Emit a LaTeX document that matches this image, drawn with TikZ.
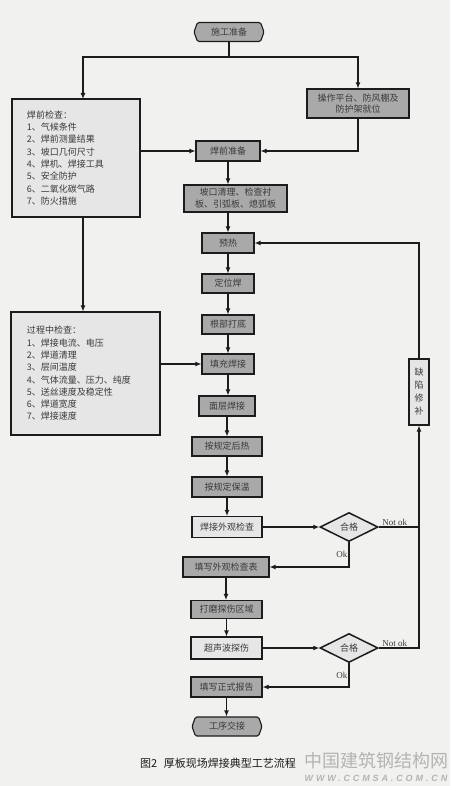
\documentclass[tikz,border=0pt]{standalone}
\usepackage{fontspec}
\setmainfont{Liberation Serif}
\newfontfamily\cjk{Noto Sans CJK SC}
\newfontfamily\wmfont[LetterSpace=32]{Liberation Sans}
\usetikzlibrary{shapes.geometric,shapes.symbols,arrows.meta,calc}
\definecolor{paper}{HTML}{F1F1EF}
\definecolor{grayf}{HTML}{A9A9A9}
\definecolor{lightf}{HTML}{E6E6E6}
\definecolor{linec}{HTML}{1C1C1C}
\definecolor{txtc}{HTML}{3A3A3A}
\definecolor{wmc}{HTML}{B4B4B4}
\tikzset{
  box/.style={draw=linec, line width=1.1pt, rectangle, inner sep=0pt, align=center,
              font=\cjk\fontsize{9}{11.5}\selectfont, text=txtc},
  gbox/.style={box, fill=grayf},
  lbox/.style={box, fill=lightf},
  listbox/.style={box, fill=lightf, align=left, font=\cjk\fontsize{9}{12.3}\selectfont},
  term/.style={box, fill=grayf, signal, signal to=west and east, signal pointer angle=140,
               rounded corners=1.5pt, minimum width=70pt, minimum height=19pt},
  decision/.style={box, fill=lightf, diamond, line width=1.5pt, minimum width=58pt, minimum height=29pt},
  arr/.style={draw=linec, line width=1.1pt, -{Latex[length=6pt,width=5pt]}},
  ln/.style={draw=linec, line width=1.1pt},
  lab/.style={font=\fontsize{9}{10}\selectfont, text=txtc, inner sep=1pt}
}
\begin{document}
\begin{tikzpicture}[x=1pt,y=-1pt]
\fill[paper] (0,0) rectangle (450,786);
\useasboundingbox (0,0) rectangle (450,786);

% nodes
\node[term] (start) at (229,32) {施工准备};
\node[gbox, minimum width=102pt, minimum height=29pt] (ops) at (358,103.5) {操作平台、防风棚及\\防护架就位};
\node[listbox, minimum height=118pt, text width=98pt, inner xsep=15pt] (pre) at (76,158)
  {焊前检查：\\1、气候条件\\2、焊前测量结果\\3、坡口几何尺寸\\4、焊机、焊接工具\\5、安全防护\\6、二氧化碳气路\\7、防火措施};
\node[gbox, minimum width=64pt, minimum height=20pt] (prep) at (228,151) {焊前准备};
\node[gbox, minimum width=103pt, minimum height=27pt, font=\cjk\fontsize{9}{12}\selectfont] (groove) at (235.5,198.5) {坡口清理、检查衬\\板、引弧板、熄弧板};
\node[gbox, minimum width=52pt, minimum height=20pt] (preheat) at (228,243) {预热};
\node[gbox, minimum width=52pt, minimum height=19pt] (tack) at (228,283.5) {定位焊};
\node[gbox, minimum width=52pt, minimum height=19pt] (root) at (228,324.5) {根部打底};
\node[gbox, minimum width=52pt, minimum height=20pt] (fill) at (228,364) {填充焊接};
\node[listbox, minimum height=123pt, text width=117pt, inner xsep=16pt] (proc) at (85.5,373.5)
  {过程中检查：\\1、焊接电流、电压\\2、焊道清理\\3、层间温度\\4、气体流量、压力、纯度\\5、送丝速度及稳定性\\6、焊道宽度\\7、焊接速度};
\node[gbox, minimum width=56pt, minimum height=20pt] (cap) at (227,406) {面层焊接};
\node[gbox, minimum width=70pt, minimum height=19pt] (post) at (227,446.5) {按规定后热};
\node[gbox, minimum width=70pt, minimum height=20pt] (hold) at (227,487) {按规定保温};
\node[lbox, minimum width=70pt, minimum height=21pt] (visual) at (227,527) {焊接外观检查};
\node[decision] (d1) at (349,527) {合格};
\node[gbox, minimum width=86pt, minimum height=20pt] (form) at (226,567) {填写外观检查表};
\node[gbox, minimum width=71pt, minimum height=18pt] (grind) at (226.5,609.5) {打磨探伤区域};
\node[lbox, minimum width=71pt, minimum height=22pt] (ut) at (226.5,648) {超声波探伤};
\node[decision] (d2) at (349,648) {合格};
\node[gbox, minimum width=71pt, minimum height=20pt] (report) at (226.5,687) {填写正式报告};
\node[term] (end) at (227,726.5) {工序交接};
\node[lbox, minimum width=20pt, minimum height=66pt, font=\cjk\fontsize{9}{13}\selectfont] (repair) at (419,392) {缺\\陷\\修\\补};

% connectors
\coordinate (split) at (229,57);
\coordinate (preIn) at (83,99);
\draw[ln] (start.south) -- (split);
\draw[arr] (split) -| (preIn);
\draw[arr] (split) -| (ops.north);
\draw[arr] (ops.south) |- (prep.east);
\draw[arr] (pre.east |- prep.west) -- (prep.west);
\draw[arr] (prep.south) -- (prep.south |- groove.north);
\draw[arr] (groove.south -| preheat.north) -- (preheat.north);
\draw[arr] (preheat.south) -- (preheat.south |- tack.north);
\draw[arr] (tack.south) -- (tack.south |- root.north);
\draw[arr] (root.south) -- (root.south |- fill.north);
\draw[arr] (fill.south) -- (fill.south |- cap.north);
\draw[arr] (cap.south) -- (cap.south |- post.north);
\draw[arr] (post.south) -- (post.south |- hold.north);
\draw[arr] (hold.south) -- (hold.south |- visual.north);
\draw[arr] (preIn |- pre.south) -- (preIn |- proc.north);
\draw[arr] (proc.east |- fill.west) -- (fill.west);
\draw[arr] (visual.east) -- (d1.west);
\draw[ln] (d1.east) -- node[lab, above right, pos=0.05] {Not ok} (d1.east -| repair.south);
\draw[arr] (d1.south) |- node[lab, left, pos=0.25] {Ok} (form.east);
\draw[arr] (form.south) -- (form.south |- grind.north);
\draw[arr] (grind.south) -- (grind.south |- ut.north);
\draw[arr] (ut.east) -- (d2.west);
\draw[arr] (d2.east) -| node[lab, above, pos=0.2] {Not ok} (repair.south);
\draw[arr] (d2.south) |- node[lab, left, pos=0.25] {Ok} (report.east);
\draw[arr] (report.south) -- (report.south |- end.north);
\draw[arr] (repair.north) |- (preheat.east);

% caption and watermark
\node[font=\cjk\fontsize{11}{13}\selectfont, text=black!90] (cap2) at (218,763) {图2\hspace{0.6em}厚板现场焊接典型工艺流程};
\node[font=\cjk\fontsize{18}{20}\selectfont, text=wmc] (wm1) at (376,761) {中国建筑钢结构网};
\node[font=\wmfont\bfseries\itshape\fontsize{9}{10}\selectfont, text=wmc] (wm2) at (376,778) {WWW.CCMSA.COM.CN};
\end{tikzpicture}
\end{document}
